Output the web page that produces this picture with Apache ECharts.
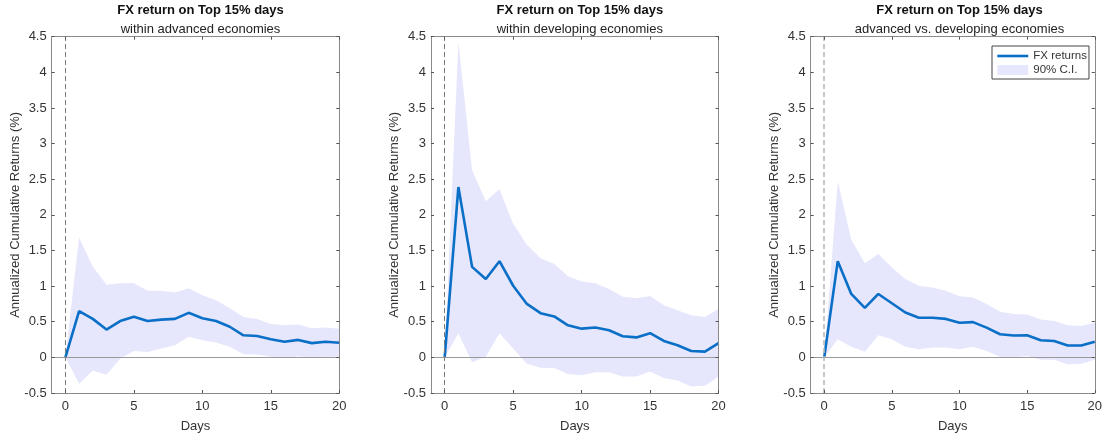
<!DOCTYPE html>
<html>
<head>
<meta charset="utf-8">
<script src="https://cdn.jsdelivr.net/npm/echarts@6/dist/echarts.min.js"></script>
<style>
  html, body { margin: 0; padding: 0; background: #fff; }
  #chart { width: 1105px; height: 438px; }
</style>
</head>
<body>
<div id="chart"></div>
<script>
// Horizon in trading days after the event
const days = [0, 1, 2, 3, 4, 5, 6, 7, 8, 9, 10, 11, 12, 13, 14, 15, 16, 17, 18, 19, 20];
const xTickValues = [0, 5, 10, 15, 20];

const mainTitle = 'FX return on Top 15% days';
const subTitles = ['within advanced economies', 'within developing economies', 'advanced vs. developing economies'];
const yAxisName = 'Annualized Cumulative Returns (%)';
const xAxisName = 'Days';
const lineName = 'FX returns';
const bandName = '90% C.I.';

// Panel 1: within advanced economies
const advReturn = [0, 0.65, 0.54, 0.39, 0.51, 0.57, 0.51, 0.53, 0.54, 0.625, 0.55, 0.51, 0.43, 0.31, 0.30, 0.255, 0.22, 0.245, 0.20, 0.22, 0.205];
const advUpper  = [0, 1.68, 1.27, 1.02, 1.04, 1.04, 0.935, 0.935, 0.91, 0.97, 0.87, 0.80, 0.69, 0.565, 0.54, 0.47, 0.45, 0.46, 0.41, 0.42, 0.40];
const advLower  = [0, -0.37, -0.185, -0.245, -0.015, 0.09, 0.075, 0.125, 0.17, 0.29, 0.24, 0.21, 0.15, 0.045, 0.04, 0.01, -0.01, 0.015, -0.005, 0.01, 0.01];

// Panel 2: within developing economies
const devReturn = [0, 2.39, 1.27, 1.10, 1.35, 1.005, 0.75, 0.62, 0.574, 0.45, 0.403, 0.42, 0.38, 0.296, 0.28, 0.34, 0.23, 0.17, 0.09, 0.08, 0.20];
const devUpper  = [0, 4.43, 2.625, 2.19, 2.36, 1.87, 1.58, 1.39, 1.31, 1.14, 1.065, 1.04, 0.96, 0.85, 0.83, 0.86, 0.73, 0.66, 0.59, 0.565, 0.68];
const devLower  = [0, 0.34, -0.07, 0.01, 0.34, 0.125, -0.09, -0.145, -0.15, -0.235, -0.25, -0.21, -0.21, -0.27, -0.27, -0.20, -0.29, -0.325, -0.41, -0.40, -0.27];

// Panel 3: advanced vs. developing economies
const crossReturn = [0, 1.35, 0.89, 0.694, 0.89, 0.76, 0.63, 0.556, 0.556, 0.54, 0.486, 0.495, 0.417, 0.324, 0.306, 0.31, 0.24, 0.23, 0.167, 0.167, 0.22];
const crossUpper  = [0, 2.47, 1.65, 1.32, 1.45, 1.26, 1.10, 1.00, 0.98, 0.935, 0.856, 0.84, 0.75, 0.64, 0.61, 0.60, 0.53, 0.51, 0.45, 0.44, 0.49];
const crossLower  = [0, 0.255, 0.15, 0.08, 0.31, 0.255, 0.15, 0.115, 0.14, 0.14, 0.115, 0.15, 0.09, 0.01, 0.0, 0.02, -0.035, -0.035, -0.095, -0.09, -0.035];

const panels = [
  { ret: advReturn, up: advUpper, lo: advLower, dashColor: '#7a7a7a', dashWidth: 1 },
  { ret: devReturn, up: devUpper, lo: devLower, dashColor: '#7a7a7a', dashWidth: 1 },
  { ret: crossReturn, up: crossUpper, lo: crossLower, dashColor: '#b8b8b8', dashWidth: 1.6 }
];

const FONT = '"Liberation Sans", Arial, Helvetica, sans-serif';
const LINE_COLOR = '#0a6fc6';
const BAND_COLOR = '#e6e6fd';
const BOX_COLOR = '#8a8a8a';
const TEXT_COLOR = '#333333';

const gridLefts = [51.7, 431, 810.7];
const gridWidth = 287.6;
const gridTop = 36.7;
const gridHeight = 360;

const grids = [], xAxes = [], yAxes = [], series = [], titles = [];

// Confidence band: one polygon running along the upper bound and back along the lower bound
function bandRenderer(upper, lower) {
  return function (params, api) {
    if (params.dataIndex !== 0) return null;
    const top = days.map((d, k) => api.coord([d, upper[k]]));
    const bottom = days.map((d, k) => api.coord([d, lower[k]])).reverse();
    return {
      type: 'polygon',
      shape: { points: top.concat(bottom) },
      style: { fill: BAND_COLOR, stroke: null },
      silent: true
    };
  };
}

panels.forEach((p, i) => {
  grids.push({ left: gridLefts[i], top: gridTop, width: gridWidth, height: gridHeight, containLabel: false });

  titles.push({
    text: mainTitle,
    subtext: subTitles[i],
    left: gridLefts[i] + gridWidth / 2,
    top: 3,
    textAlign: 'center',
    itemGap: 5.5,
    padding: [1, 5, 5, 5],
    textStyle: { fontFamily: FONT, fontSize: 13, fontWeight: 'bold', color: '#111' },
    subtextStyle: { fontFamily: FONT, fontSize: 13, color: '#222' }
  });

  const tickStyle = { show: true, inside: true, length: 3, lineStyle: { color: '#555', width: 1 } };
  const lineStyle = { show: true, onZero: false, lineStyle: { color: BOX_COLOR, width: 1 } };

  // bottom x axis with labels
  xAxes.push({
    gridIndex: i, type: 'value', min: -1, max: 20, position: 'bottom', z: 5,
    name: xAxisName, nameLocation: 'middle', nameGap: 27,
    nameTextStyle: { fontFamily: FONT, fontSize: 13, color: TEXT_COLOR },
    axisLine: lineStyle,
    axisTick: Object.assign({}, tickStyle, { customValues: xTickValues }),
    axisLabel: { customValues: xTickValues, margin: 7, fontFamily: FONT, fontSize: 13, color: TEXT_COLOR },
    splitLine: { show: false }
  });
  // top x axis (box edge with ticks)
  xAxes.push({
    gridIndex: i, type: 'value', min: -1, max: 20, position: 'top', z: 5,
    axisLine: lineStyle,
    axisTick: Object.assign({}, tickStyle, { customValues: xTickValues }),
    axisLabel: { show: false },
    splitLine: { show: false }
  });
  // left y axis with labels
  yAxes.push({
    gridIndex: i, type: 'value', min: -0.5, max: 4.5, interval: 0.5, position: 'left', z: 5,
    name: yAxisName, nameLocation: 'middle', nameGap: 30, nameMoveOverlap: false,
    nameTextStyle: { fontFamily: FONT, fontSize: 13, color: TEXT_COLOR },
    axisLine: lineStyle,
    axisTick: tickStyle,
    axisLabel: { margin: 5, fontFamily: FONT, fontSize: 13, color: TEXT_COLOR },
    splitLine: { show: false }
  });
  // right y axis (box edge with ticks)
  yAxes.push({
    gridIndex: i, type: 'value', min: -0.5, max: 4.5, interval: 0.5, position: 'right', z: 5,
    axisLine: lineStyle,
    axisTick: tickStyle,
    axisLabel: { show: false },
    splitLine: { show: false }
  });

  const xi = i * 2, yi = i * 2;

  series.push({
    name: bandName, type: 'custom', xAxisIndex: xi, yAxisIndex: yi,
    data: days.map((d, k) => [d, p.lo[k], p.up[k]]),
    encode: { x: 0, y: [1, 2] },
    renderItem: bandRenderer(p.up, p.lo),
    color: BAND_COLOR, itemStyle: { color: BAND_COLOR },
    silent: true, z: 1
  });

  series.push({
    name: lineName, type: 'line', xAxisIndex: xi, yAxisIndex: yi,
    data: days.map((d, k) => [d, p.ret[k]]),
    symbol: 'none', showSymbol: false, color: LINE_COLOR,
    lineStyle: { color: LINE_COLOR, width: 2.6 }, z: 3,
    markLine: {
      silent: true, symbol: 'none', label: { show: false }, animation: false,
      data: [
        { yAxis: 0, lineStyle: { color: '#9a9a9a', width: 1, type: 'solid' } },
        { xAxis: 0, lineStyle: { color: p.dashColor, width: p.dashWidth, type: [5, 3] } }
      ]
    }
  });
});

const chart = echarts.init(document.getElementById('chart'), null, { renderer: 'canvas' });
chart.setOption({
  animation: false,
  backgroundColor: '#ffffff',
  title: titles,
  grid: grids,
  xAxis: xAxes,
  yAxis: yAxes,
  legend: {
    data: [
      { name: lineName, itemStyle: { opacity: 0 }, lineStyle: { width: 2.6, color: LINE_COLOR } },
      { name: bandName, icon: 'rect', itemStyle: { color: BAND_COLOR } }
    ],
    orient: 'vertical',
    left: 992, top: 46,
    padding: [4, 2, 3, 4],
    itemGap: 2,
    itemWidth: 31, itemHeight: 10,
    borderColor: '#444', borderWidth: 1, backgroundColor: '#fff',
    selectedMode: false,
    textStyle: { fontFamily: FONT, fontSize: 11.5, color: TEXT_COLOR, lineHeight: 11 }
  },
  series: series
});
</script>
</body>
</html>
